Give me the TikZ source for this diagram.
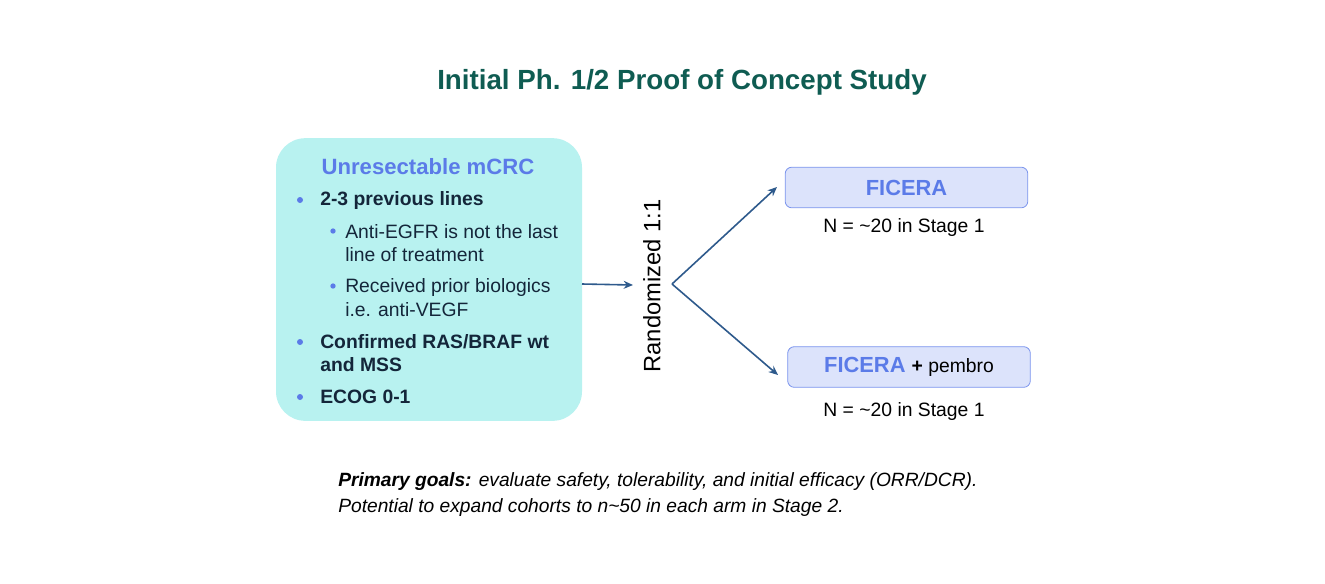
\documentclass[tikz,border=0pt]{standalone}
\usepackage{fontspec}
\setmainfont{Liberation Sans}
\usetikzlibrary{arrows.meta}
\definecolor{teal}{HTML}{0F5C52}
\definecolor{lblue}{HTML}{5B7BE8}
\definecolor{boxc}{HTML}{B8F2F0}
\definecolor{fbox}{HTML}{DCE3FB}
\definecolor{dark}{HTML}{14263A}
\definecolor{arr}{HTML}{2E5A8C}
\begin{document}
\begin{tikzpicture}[x=0.75pt,y=-0.75pt,
  txt/.style={anchor=west,font=\fontsize{14.5}{17}\selectfont,text=dark,inner sep=0},
  btxt/.style={txt,font=\fontsize{14.5}{17}\selectfont\bfseries},
  dot/.style={circle,fill=lblue,inner sep=0,minimum size=4.5pt},
  sdot/.style={circle,fill=lblue,inner sep=0,minimum size=4pt},
  ln/.style={draw=arr,line width=1.2pt},
  tip/.style={-{Stealth[length=7pt,width=6pt]}},
  arm/.style={draw=lblue!80,fill=fbox,rounded corners=5pt,line width=0.6pt,minimum width=182pt,minimum height=30.5pt},
  ntxt/.style={font=\fontsize{14.5}{17}\selectfont}]
\useasboundingbox (0,0) rectangle (1325,583);
\node[font=\fontsize{20.8}{24}\selectfont\bfseries,text=teal] (title) at (682,82) {Initial Ph. 1/2 Proof of Concept Study};
\node[fill=boxc,rounded corners=22pt,minimum width=229.5pt,minimum height=212pt,inner sep=0] (lb) at (429,279.5) {};
\node[font=\fontsize{16.6}{19}\selectfont\bfseries,text=lblue] (lt) at (428,167) {Unresectable mCRC};
\node[dot] (d1) at (300,200) {}; \node[btxt] (t1) at (320,200) {2-3 previous lines};
\node[sdot] (d2) at (333,231) {}; \node[txt] (t2) at (345,232) {Anti-EGFR is not the last};
\node[txt] (t3) at (345,255) {line of treatment};
\node[sdot] (d3) at (333,286) {}; \node[txt] (t4) at (345,287) {Received prior biologics};
\node[txt] (t5) at (345,310) {i.e. anti-VEGF};
\node[dot] (d4) at (300,342) {}; \node[btxt] (t6) at (320,342) {Confirmed RAS/BRAF wt};
\node[btxt] (t7) at (320,365) {and MSS};
\node[dot] (d5) at (300,397) {}; \node[btxt] (t8) at (320,397) {ECOG 0-1};
\coordinate (a0) at (582,284);
\node[rotate=90,font=\fontsize{17.8}{20}\selectfont] (rand) at (652,286) {Randomized 1:1};
\coordinate (a1) at (633,285);
\draw[ln,tip] (a0) -- (a1);
\coordinate (br) at (672,284);
\node[arm] (f1) at (906.5,187.5) {\fontsize{16.4}{19}\selectfont\bfseries\color{lblue}FICERA};
\node[arm] (f2) at (909,367) {\fontsize{16.4}{19}\selectfont\bfseries\color{lblue}FICERA \color{black}\fontsize{14.5}{17}\selectfont+ \mdseries pembro};
\coordinate (e1) at (777,187); \coordinate (e2) at (778,375);
\draw[ln,tip] (br) -- (e1);
\draw[ln,tip] (br) -- (e2);
\node[ntxt] (n1) at (904,227) {N = \textasciitilde 20 in Stage 1};
\node[ntxt] (n2) at (904,411) {N = \textasciitilde 20 in Stage 1};
\node[anchor=west,inner sep=0,font=\fontsize{14.4}{17}\selectfont\itshape] (g1) at (338,482) {\textbf{Primary goals:} evaluate safety, tolerability, and initial efficacy (ORR/DCR).};
\node[anchor=west,inner sep=0,font=\fontsize{14.4}{17}\selectfont\itshape] (g2) at (338,508) {Potential to expand cohorts to n\textasciitilde 50 in each arm in Stage 2.};
\end{tikzpicture}
\end{document}
